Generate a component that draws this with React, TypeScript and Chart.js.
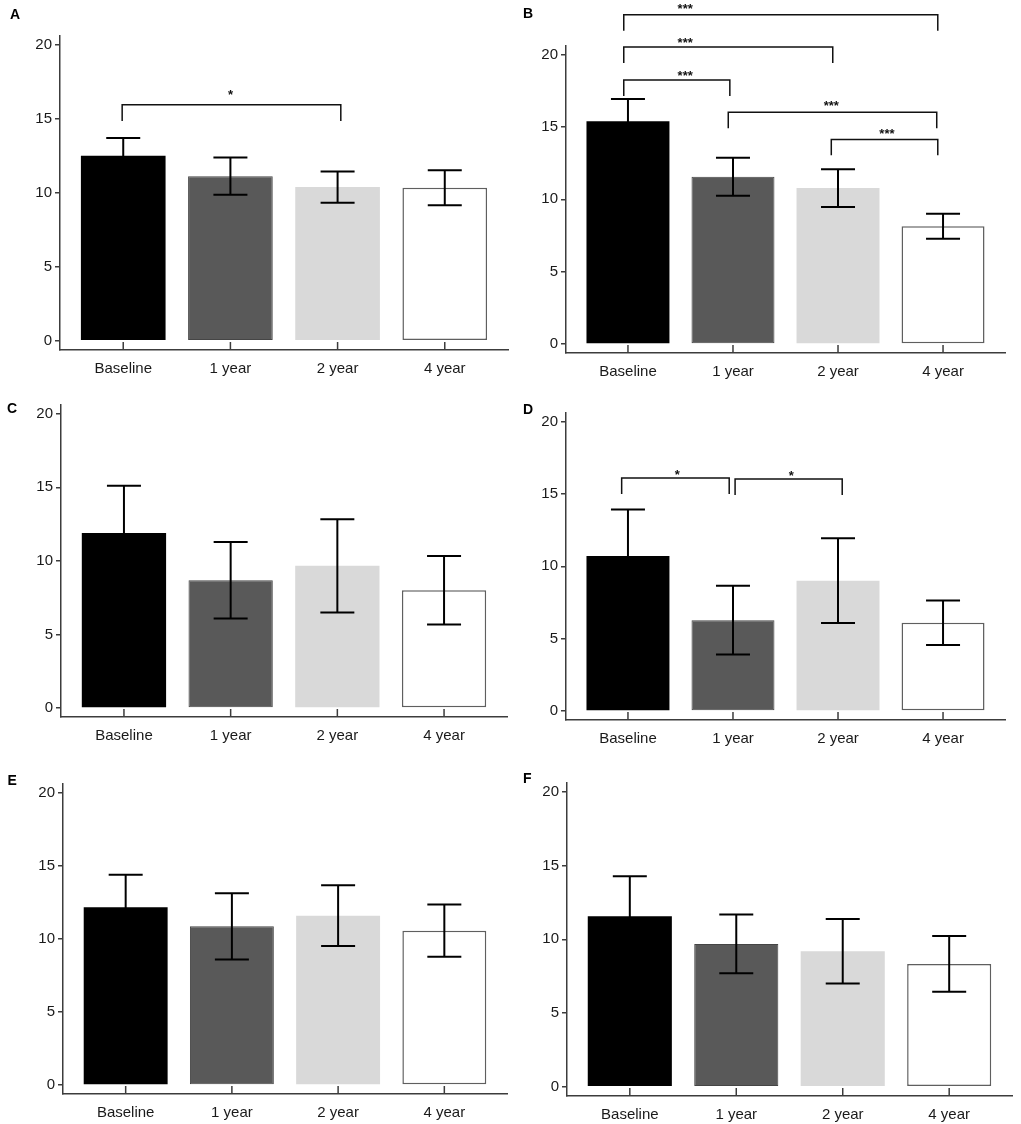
import React, { useEffect, useRef } from 'react';
import Chart from 'chart.js/auto';

// shared axis data
const categories = ['Baseline', '1 year', '2 year', '4 year'];
const yTicks = [0, 5, 10, 15, 20];
const barColors = ['#000000', '#595959', '#d9d9d9', '#ffffff'];
const barBorders = ['#000000', '#454545', '#d9d9d9', '#5f5f5f'];
const barBorderWidths = [0, 1, 0, 1.5];

// panel values (mean, +/- error)
const meansA = [12.51, 11.13, 10.39, 10.35];
const errorsA = [1.2, 1.26, 1.06, 1.18];
const meansB = [15.4, 11.56, 10.78, 8.14];
const errorsB = [1.54, 1.31, 1.3, 0.86];
const meansC = [11.89, 8.68, 9.66, 8.0];
const errorsC = [3.22, 2.6, 3.17, 2.33];
const meansD = [10.72, 6.28, 9.01, 6.1];
const errorsD = [3.21, 2.38, 2.93, 1.54];
const meansE = [12.16, 10.86, 11.59, 10.56];
const errorsE = [2.22, 2.27, 2.08, 1.79];
const meansF = [11.56, 9.69, 9.19, 8.33];
const errorsF = [2.71, 1.99, 2.19, 1.89];

// significance brackets: [from, to, level, label, labelX, labelY]
type Bracket = [number, number, number, string, number, number];
const bracketsA: Bracket[] = [[-0.01, 2.03, 15.95, '*', 1.0, 16.87]];
const bracketsB: Bracket[] = [
  [-0.04, 2.95, 22.76, '***', 0.545, 23.4],
  [-0.04, 1.95, 20.53, '***', 0.545, 21.1],
  [-0.04, 0.97, 18.25, '***', 0.545, 18.8],
  [0.955, 2.94, 16.02, '***', 1.936, 16.7],
  [1.936, 2.95, 14.14, '***', 2.466, 14.75],
];
const bracketsD: Bracket[] = [
  [-0.06, 0.964, 16.1, '*', 0.47, 16.55],
  [1.02, 2.04, 16.03, '*', 1.555, 16.5],
];

const FONT = "'Liberation Sans', Arial, sans-serif";
const AXIS = '#3c3c3c';
const INK = '#000000';
const Y_W = 45;
const X_H = 40;

interface Box { left: number; right: number; top: number; bottom: number; rowTop: number }

interface PanelProps {
  letter: string;
  letterPos: [number, number];
  means: number[];
  errors: number[];
  brackets: Bracket[];
  box: Box;
}

const BarPanel: React.FC<PanelProps> = ({ means, errors, brackets, box }) => {
  const canvasRef = useRef<HTMLCanvasElement>(null);
  const left = box.left - Y_W;
  const width = box.right + 8 - left;
  const height = box.bottom + X_H - box.rowTop;

  useEffect(() => {
    if (!canvasRef.current) return;

    const overlay = {
      id: 'overlay',
      afterDatasetsDraw(chart: any) {
        const { ctx, chartArea } = chart;
        const x = chart.scales.x;
        const y = chart.scales.y;
        const line = (x1: number, y1: number, x2: number, y2: number) => {
          ctx.beginPath();
          ctx.moveTo(x1, y1);
          ctx.lineTo(x2, y2);
          ctx.stroke();
        };
        ctx.save();

        // inward category ticks
        ctx.strokeStyle = AXIS;
        ctx.lineWidth = 1.5;
        categories.forEach((_, i) => {
          const px = x.getPixelForValue(i);
          line(px, chartArea.bottom, px, chartArea.bottom - 8);
        });

        // error bars
        ctx.strokeStyle = INK;
        ctx.lineWidth = 2;
        means.forEach((m, i) => {
          const px = x.getPixelForValue(i);
          const hi = y.getPixelForValue(m + errors[i]);
          const lo = y.getPixelForValue(m - errors[i]);
          line(px, hi, px, lo);
          line(px - 17, hi, px + 17, hi);
          line(px - 17, lo, px + 17, lo);
        });

        // brackets
        ctx.strokeStyle = '#111111';
        ctx.lineWidth = 1.5;
        ctx.fillStyle = '#111111';
        ctx.font = `bold 13px ${FONT}`;
        ctx.textAlign = 'center';
        ctx.textBaseline = 'alphabetic';
        brackets.forEach(([from, to, level, text, tx, ty]) => {
          const x1 = x.getPixelForValue(from);
          const x2 = x.getPixelForValue(to);
          const py = y.getPixelForValue(level);
          const legs = y.getPixelForValue(level - 1.1);
          ctx.beginPath();
          ctx.moveTo(x1, legs);
          ctx.lineTo(x1, py);
          ctx.lineTo(x2, py);
          ctx.lineTo(x2, legs);
          ctx.stroke();
          ctx.fillText(text, x.getPixelForValue(tx), y.getPixelForValue(ty) + 7.8);
        });

        ctx.restore();
      },
    };

    const chart = new Chart(canvasRef.current, {
      type: 'bar',
      data: {
        datasets: [
          {
            data: means.map((v, i) => ({ x: i, y: v })),
            backgroundColor: barColors,
            borderColor: barBorders,
            borderWidth: barBorderWidths,
            borderSkipped: false,
            categoryPercentage: 1,
            barPercentage: 0.79,
          },
        ],
      },
      options: {
        responsive: false,
        animation: false,
        layout: { padding: { top: box.top - box.rowTop, right: 8, left: 0, bottom: 0 } },
        plugins: { legend: { display: false }, tooltip: { enabled: false } },
        scales: {
          x: {
            type: 'linear',
            offset: false,
            min: -0.59,
            max: 3.59,
            afterBuildTicks: (s: any) => {
              s.ticks = categories.map((_, i) => ({ value: i }));
            },
            afterFit: (s: any) => {
              s.height = X_H;
            },
            grid: { drawOnChartArea: false, drawTicks: false, offset: false },
            border: { color: AXIS, width: 1.5 },
            ticks: {
              autoSkip: false,
              maxRotation: 0,
              padding: 10,
              color: '#1a1a1a',
              font: { family: FONT, size: 15 },
              callback: (v: any) => categories[Math.round(Number(v))],
            },
          },
          y: {
            type: 'linear',
            min: -0.62,
            max: 20.6,
            afterBuildTicks: (s: any) => {
              s.ticks = yTicks.map((v) => ({ value: v }));
            },
            afterFit: (s: any) => {
              s.width = Y_W;
            },
            grid: { drawOnChartArea: false, drawTicks: true, tickLength: 5, color: AXIS, lineWidth: 1.5 },
            border: { color: AXIS, width: 1.5 },
            ticks: {
              padding: 3,
              color: '#1a1a1a',
              font: { family: FONT, size: 15 },
            },
          },
        },
      },
      plugins: [overlay],
    } as any);

    return () => chart.destroy();
  }, [means, errors, brackets, box]);

  return (
    <canvas
      ref={canvasRef}
      width={width}
      height={height}
      style={{ position: 'absolute', left, top: box.rowTop, width, height }}
    />
  );
};

const panels: PanelProps[] = [
  { letter: 'A', letterPos: [10, 7], means: meansA, errors: errorsA, brackets: bracketsA, box: { left: 60, right: 508, top: 36, bottom: 350, rowTop: 0 } },
  { letter: 'B', letterPos: [523, 5.5], means: meansB, errors: errorsB, brackets: bracketsB, box: { left: 566, right: 1005, top: 46, bottom: 353, rowTop: 0 } },
  { letter: 'C', letterPos: [7, 401], means: meansC, errors: errorsC, brackets: [], box: { left: 61, right: 507, top: 405, bottom: 717, rowTop: 380 } },
  { letter: 'D', letterPos: [523, 402], means: meansD, errors: errorsD, brackets: bracketsD, box: { left: 566, right: 1005, top: 413, bottom: 720, rowTop: 380 } },
  { letter: 'E', letterPos: [7.5, 773], means: meansE, errors: errorsE, brackets: [], box: { left: 63, right: 507, top: 784, bottom: 1094, rowTop: 760 } },
  { letter: 'F', letterPos: [523, 771], means: meansF, errors: errorsF, brackets: [], box: { left: 567, right: 1012, top: 783, bottom: 1096, rowTop: 760 } },
];

export default function App() {
  return (
    <div style={{ position: 'absolute', left: 0, top: 0, width: 1021, height: 1124, background: '#fff' }}>
      {panels.map((p) => (
        <React.Fragment key={p.letter}>
          <BarPanel {...p} />
          <div
            style={{
              position: 'absolute',
              left: p.letterPos[0],
              top: p.letterPos[1],
              font: `bold 14px ${FONT}`,
              lineHeight: 1,
              color: '#000',
            }}
          >
            {p.letter}
          </div>
        </React.Fragment>
      ))}
    </div>
  );
}
